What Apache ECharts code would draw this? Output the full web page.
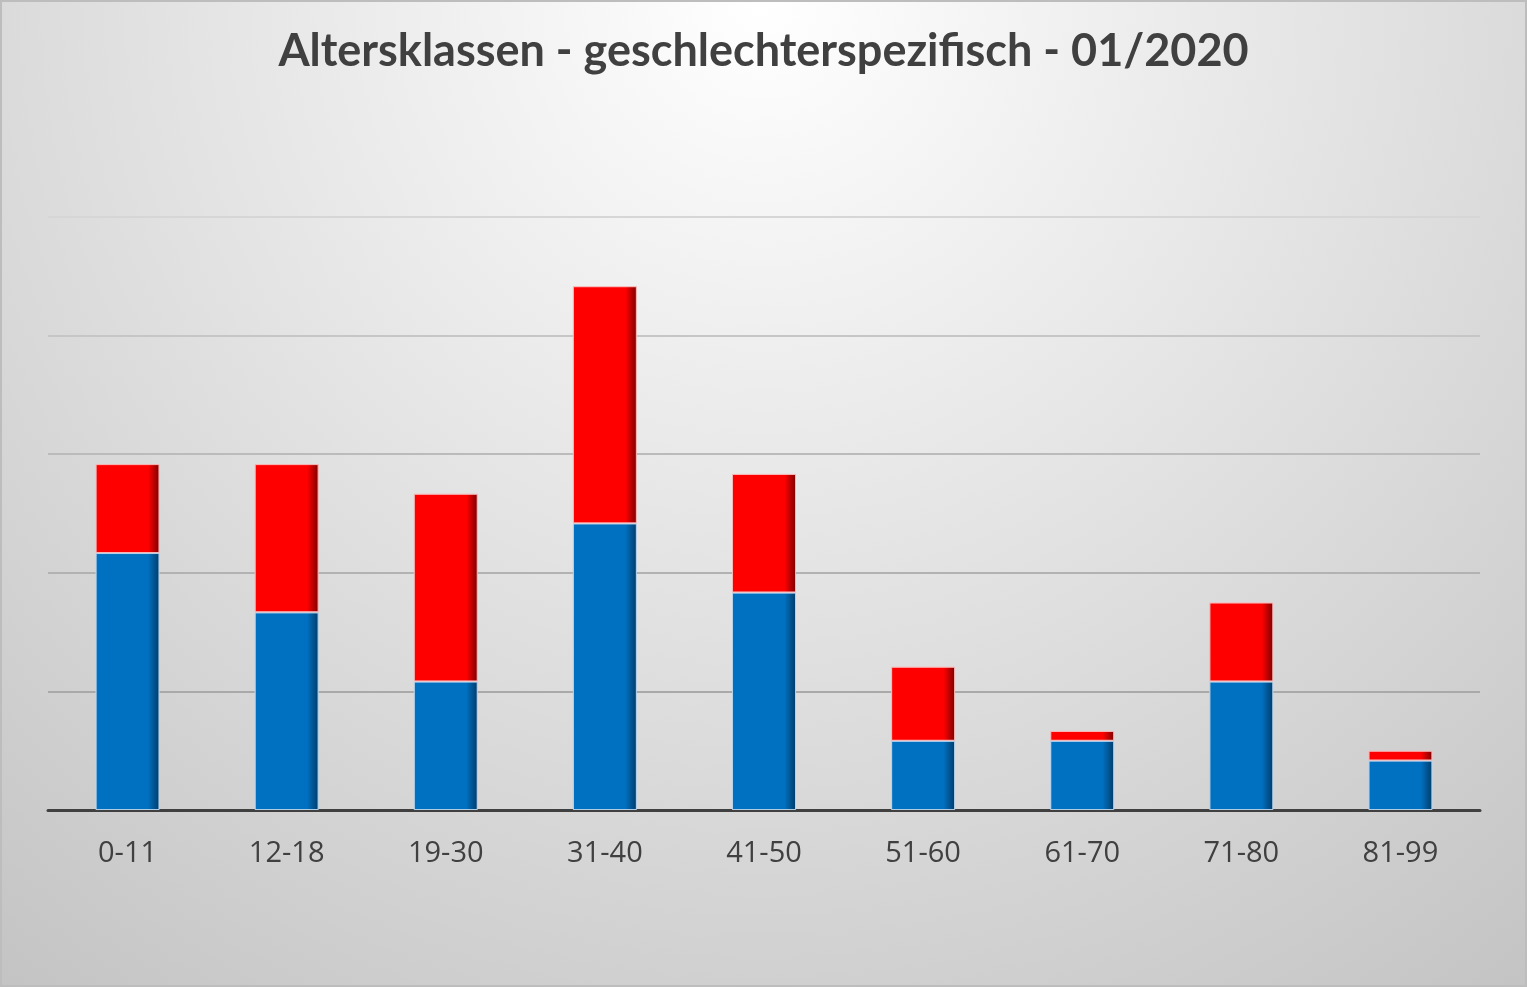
<!DOCTYPE html>
<html>
<head>
<meta charset="utf-8">
<script src="https://cdn.jsdelivr.net/npm/echarts@6/dist/echarts.min.js"></script>
<style>
  html, body { margin: 0; padding: 0; }
  #chart { width: 1527px; height: 987px; box-sizing: border-box; border: 2px solid #bdbdbd; }
</style>
</head>
<body>
<div id="chart"></div>
<script>
// Altersklassen
const categories = ["0-11", "12-18", "19-30", "31-40", "41-50", "51-60", "61-70", "71-80", "81-99"];
// unterer Teil (blau)
const blueValues = [26, 20, 13, 29, 22, 7, 7, 13, 5];
// oberer Teil (rot)
const redValues = [9, 15, 19, 24, 12, 7.5, 1, 8, 1];

const chart = echarts.init(document.getElementById("chart"));

// Balken mit dunkler rechter Kante
function barFill(base, dark) {
  return {
    type: "linear", x: 0, y: 0, x2: 1, y2: 0,
    colorStops: [
      { offset: 0, color: base },
      { offset: 0.82, color: base },
      { offset: 1, color: dark }
    ]
  };
}

chart.setOption({
  backgroundColor: {
    type: "radial", x: 0.5, y: 0, r: 1.3,
    colorStops: [
      { offset: 0, color: "#ffffff" },
      { offset: 1, color: "#c2c2c2" }
    ]
  },
  title: {
    text: "Altersklassen - geschlechterspezifisch - 01/2020",
    left: "center",
    top: 22,
    textStyle: {
      fontFamily: "Lato",
      fontWeight: "bold",
      fontSize: 45,
      color: "#404040"
    }
  },
  grid: { left: 46, right: 45, top: 215, bottom: 175 },
  xAxis: {
    type: "category",
    data: categories,
    axisTick: { show: false },
    axisLine: { lineStyle: { color: "#404040", width: 3 } },
    axisLabel: {
      margin: 29,
      fontFamily: "Open Sans",
      fontSize: 29,
      color: "#404040"
    }
  },
  yAxis: {
    type: "value",
    min: 0,
    max: 60,
    interval: 12,
    axisLabel: { show: false },
    axisLine: { show: false },
    axisTick: { show: false },
    splitLine: {
      lineStyle: {
        width: 2,
        color: ["#999999", "#a9a9a9", "#b2b2b2", "#bbbbbb", "#c6c6c6", "#d6d6d6"]
      }
    }
  },
  series: [
    {
      name: "blau",
      type: "bar",
      stack: "gesamt",
      data: blueValues,
      barWidth: 64,
      itemStyle: {
        color: barFill("#0070c0", "#003b68"),
        borderColor: "rgba(190,215,240,0.7)",
        borderWidth: 1
      }
    },
    {
      name: "rot",
      type: "bar",
      stack: "gesamt",
      data: redValues,
      barWidth: 64,
      itemStyle: {
        color: barFill("#ff0000", "#7a0000"),
        borderColor: "rgba(250,190,190,0.7)",
        borderWidth: 1
      }
    }
  ]
});
</script>
</body>
</html>
